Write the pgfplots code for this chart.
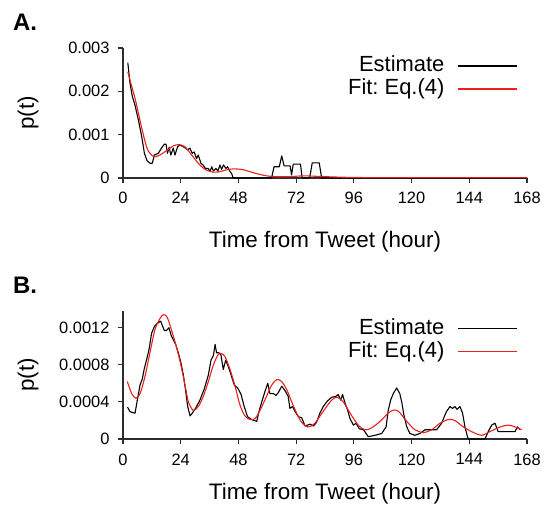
\documentclass[border=0pt]{standalone}
\usepackage{fontspec}
\setmainfont{Liberation Sans}
\usepackage{pgfplots}
\pgfplotsset{compat=1.18}

\definecolor{fitred}{RGB}{232,32,32}
\definecolor{axgray}{RGB}{45,45,45}

\pgfplotsset{
  tweetax/.style={
    scale only axis, width=404bp,
    axis lines=left, axis line style={-, axgray, line width=1.1bp},
    tick align=outside, major tick length=5bp,
    tick style={axgray, line width=1.1bp},
    xmin=0, xmax=168, xtick={0,24,...,168}, ymin=0,
    tick label style={font=\fontsize{16.5}{18}\selectfont},
    xticklabel shift=6bp, yticklabel shift=5bp,
    /pgf/number format/assume math mode=true,
    scaled y ticks=false,
    yticklabel style={/pgf/number format/fixed, /pgf/number format/precision=4},
    xlabel={Time from Tweet (hour)}, ylabel={p(t)},
    every axis y label/.style={at={(axis description cs:-0.235,0.5)}, anchor=center,
      rotate=90, font=\fontsize{22.5}{24}\selectfont},
    legend cell align=right, legend plot pos=right,
    legend style={draw=none, fill=none, font=\fontsize{22}{23}\selectfont,
      at={(axis description cs:0.978,0.946)}, anchor=north east, inner sep=0bp,
      row sep=1.5bp,
      nodes={inner sep=0bp, text height=16bp, text depth=5.5bp}},
    legend image code/.code={\path[draw=none] (0bp,0bp) -- (73bp,0bp);
      \draw[#1] (14bp,0bp) -- (73bp,0bp);},
    est/.style={black, line width=1.1bp, line join=round},
    fit/.style={fitred, line width=1.1bp, smooth},
  },
  xlab/.style={every axis x label/.style={at={(axis description cs:0.5,#1)},
      anchor=center, font=\fontsize{22.5}{24}\selectfont}},
}

\begin{document}
\begin{tikzpicture}
\useasboundingbox (-123bp,-330bp) rectangle (428bp,178bp);

% panel A
\begin{axis}[tweetax, height=130bp, at={(0,0)}, anchor=south west,
  ymax=0.003, ytick={0,0.001,0.002,0.003}, xlab=-0.49]
\addplot[est] table {
2 0.00266
2.9 0.00219
3.9 0.00188
5 0.00168
6.4 0.00134
7.8 0.00095
8.9 0.00057
10 0.00040
11.2 0.00034
12.2 0.00034
13 0.00053
14.7 0.00057
16 0.00069
17.2 0.00078
17.9 0.00078
18.5 0.00057
19.2 0.00071
19.9 0.00053
20.9 0.00069
21.6 0.00053
22.7 0.00072
23.7 0.00076
25.1 0.00072
26 0.00069
26.9 0.00065
27.8 0.00069
28.8 0.00057
29.6 0.00060
30.6 0.00045
31.3 0.00053
32.4 0.00034
33.3 0.00030
34.3 0.00022
35.4 0.00022
36.2 0.00016
36.9 0.00026
37.6 0.00016
38.6 0.00022
39.5 0.00016
40.3 0.00030
41 0.00020
41.8 0.00030
42.8 0.00022
43.5 0.00026
44.5 0.00015
45.2 0.00010
45.8 0
61.8 0
62.8 0.00026
65 0.00026
66 0.00051
67 0.00028
69.5 0.00028
70.1 0.00007
70.8 0.00032
73.8 0.00032
74.5 0
77.6 0
78.7 0.00035
81.6 0.00035
82.6 0
168 0
};
\addlegendentry{Estimate}
\addplot[fit] table {
2 0.00245
3.5 0.00214
5 0.00184
6.4 0.00150
7.8 0.00115
9.8 0.00072
11.2 0.00057
13 0.00049
15.3 0.00053
18.1 0.00063
20.9 0.00074
23.3 0.00077
25.7 0.00072
28.6 0.00053
31.3 0.00034
34.1 0.00020
36.9 0.00014
39.6 0.00014
42.4 0.00018
45.9 0.00021
50 0.00019
54.9 0.00011
59.7 0.00005
64 0.00003
69 0.00003
75 0.00005
80 0.00004
90 0.00002
100 0.00001
120 0.00001
168 0.00001
};
\addlegendentry{Fit:\ Eq.(4)}
\end{axis}
\node[font=\fontsize{24}{26}\selectfont\bfseries] at (-98bp,156bp) {A.};

% panel B
\begin{axis}[tweetax, height=128bp, at={(0,-261bp)}, anchor=south west,
  ymax=0.00138, ytick={0,0.0004,0.0008,0.0012}, xlab=-0.43]
\addplot[est] table {
1.9 0.000343
2.9 0.000295
5 0.000278
6.1 0.00044
7.1 0.000584
8 0.000645
8.9 0.000764
9.8 0.000854
10.8 0.000962
11.9 0.00114
13 0.00121
14 0.00124
14.9 0.001257
15.7 0.00127
16.4 0.00122
17.2 0.00117
18.1 0.00117
19.1 0.00120
20 0.00112
20.9 0.00107
21.9 0.00102
23 0.00093
24.1 0.00082
25.1 0.00069
26 0.00053
26.9 0.00035
27.9 0.000249
28.8 0.000278
30.2 0.000332
32 0.00042
33.8 0.00054
35.5 0.00069
36.6 0.00085
37.6 0.00090
38.3 0.00102
38.9 0.00093
39.9 0.00093
40.7 0.00091
41.7 0.00075
42.7 0.00085
43.8 0.00078
45.2 0.00067
46.3 0.00058
47.7 0.00055
49.1 0.00048
50.4 0.00035
51.8 0.00024
53.5 0.00021
55.6 0.00019
56.7 0.00031
57.7 0.00040
59 0.00051
60.2 0.00060
61.1 0.00049
62.5 0.00049
63.6 0.00047
64.6 0.00050
66 0.00057
67.4 0.00052
68.7 0.00046
69.4 0.00033
70.5 0.00035
71.5 0.00030
72.9 0.00024
74.3 0.00023
75.7 0.00014
77.8 0.00016
79.2 0.00014
80.5 0.00018
81.9 0.00028
83.3 0.00035
85 0.00041
86.8 0.00045
88.6 0.00046
89.5 0.00048
90.5 0.00042
91.3 0.00048
92.3 0.00039
93.3 0.00032
94.4 0.00022
95.8 0.00015
96.9 0.00017
98.3 0.00011
100 0.00010
102 0.000025
104.8 0.00004
107.6 0.00006
109.4 0.00013
110.3 0.00031
111.3 0.00042
112.4 0.00049
113.8 0.00055
115.1 0.00049
115.9 0.00040
116.8 0.00026
118 0.00013
119.3 0.00006
121.4 0.00004
123.5 0.00006
125.6 0.00010
127.7 0.00010
130.4 0.00010
132.5 0.00017
133.9 0.00026
134.6 0.00030
136 0.00035
137 0.00033
138 0.00035
138.9 0.00032
140.1 0.00035
141.2 0.00028
142.2 0.00013
143.2 0.00003
143.6 0
150.5 0
151.9 0.00008
153.3 0.00015
154.7 0.00017
156 0.00008
163 0.00008
164 0.00013
165.1 0.00010
};
\addlegendentry{Estimate}
\addplot[fit] table {
1.8 0.00062
3.6 0.00049
5.4 0.00044
7.1 0.00049
9.1 0.00067
11.2 0.00093
13.3 0.00118
15.4 0.00130
16.8 0.00134
18.2 0.00132
19.5 0.00123
21.6 0.00105
23.7 0.00084
25.8 0.00058
27.2 0.00040
29.2 0.00031
31.3 0.00035
33.4 0.00046
35.5 0.00062
37.6 0.00080
39.6 0.00091
41 0.00092
42.4 0.00089
44.5 0.00075
46.6 0.00057
48.6 0.00037
50.7 0.00025
52.8 0.00021
54.9 0.00022
57 0.00031
59.7 0.00046
61.8 0.00058
63.9 0.00064
66 0.00062
68.3 0.00052
70.8 0.00036
74 0.00019
77 0.00013
79.8 0.00017
83.3 0.00030
86.8 0.00042
89.1 0.00045
91.6 0.00040
94.4 0.00028
97.8 0.00015
100.6 0.00010
103.4 0.00012
106.9 0.00019
110.3 0.00028
112.4 0.00031
114.5 0.00030
118 0.00019
121.4 0.00010
124.9 0.00007
128.4 0.00010
131.8 0.00017
135.3 0.00021
138 0.00020
141.5 0.00013
145.7 0.00007
149.1 0.00004
152.6 0.00008
156.8 0.00013
160.2 0.00015
163 0.00013
165.8 0.00010
};
\addlegendentry{Fit:\ Eq.(4)}
\end{axis}
\node[font=\fontsize{24}{26}\selectfont\bfseries] at (-98bp,-107bp) {B.};
\end{tikzpicture}
\end{document}
